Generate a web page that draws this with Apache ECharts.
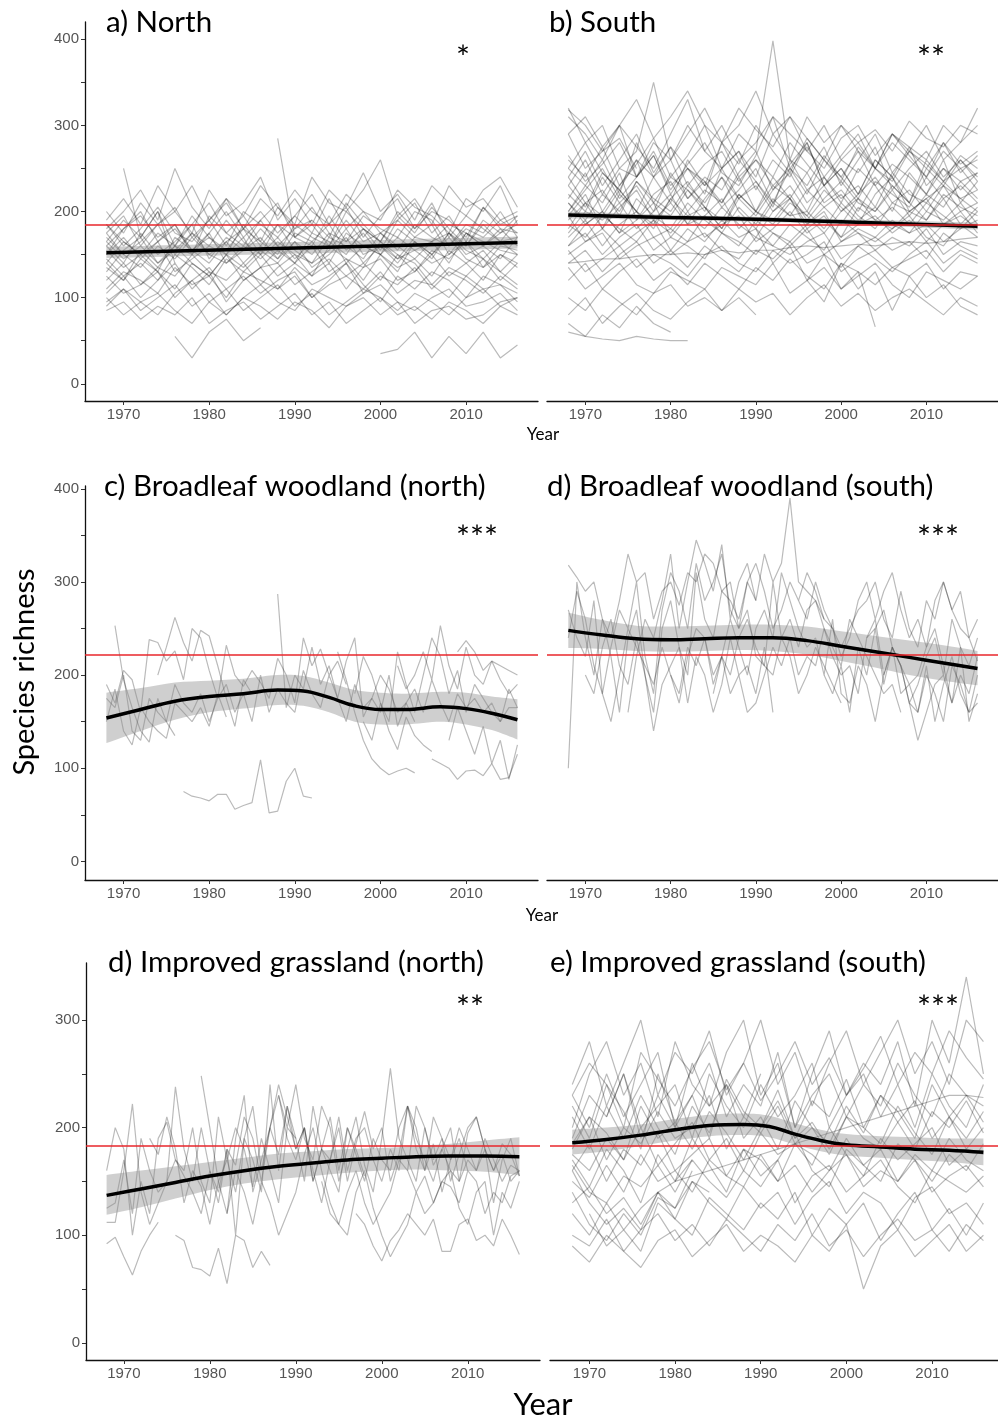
<!DOCTYPE html>
<html>
<head>
<meta charset="utf-8">
<script src="https://cdn.jsdelivr.net/npm/echarts@6/dist/echarts.min.js"></script>
<style>
  html, body { margin: 0; padding: 0; background: #fff; }
  #container { width: 998px; height: 1423px; }
</style>
</head>
<body>
<div id="container"></div>
<script>
// ---- data ----
var yearTicks = [1970, 1980, 1990, 2000, 2010];
var titles = ['a) North', 'b) South', 'c) Broadleaf woodland (north)', 'd) Broadleaf woodland (south)',
    'd) Improved grassland (north)', 'e) Improved grassland (south)'];
var signif = ['*', '**', '***', '***', '**', '***'];
var refLevels = [185, 185, 222, 222, 183, 183];

// site series: [first year, values]; a, b, f every second year, c, d, e every year
var northLines = [
    [1968, [190,215,185,230,200,175,225,195,210,240,190,215,185,225,205,245,200,220,190,230,210,195,225,240,205]],
    [1968, [180,200,225,190,250,205,180,215,195,230,205,185,240,210,200,225,260,195,215,185,230,205,215,190,200]],
    [1968, [200,175,210,185,200,230,190,210,180,215,195,225,200,185,220,200,190,225,205,195,175,215,200,230,185]],
    [1968, [165,190,170,200,160,185,210,175,195,165,205,180,190,170,210,185,165,200,180,210,170,195,180,165,190]],
    [1968, [185,160,180,205,175,165,190,160,200,185,170,195,175,215,180,200,175,190,210,175,195,165,205,180,175]],
    [1968, [150,180,195,170,185,155,175,200,170,190,160,180,205,175,165,195,180,170,200,190,160,185,175,200,170]],
    [1968, [175,150,165,185,150,175,160,190,165,150,185,170,160,195,165,180,155,190,170,165,185,175,160,175,195]],
    [1968, [160,140,175,150,165,185,145,170,155,180,160,140,175,165,150,180,165,145,170,185,150,175,160,145,170]],
    [1968, [140,165,150,130,170,155,140,165,180,150,170,145,165,140,175,160,150,170,155,165,140,175,165,155,150]],
    [1968, [170,150,135,160,145,170,150,165,140,160,185,155,140,170,160,145,175,160,145,165,175,150,160,180,160]],
    [1968, [130,155,170,140,160,150,175,140,155,170,145,165,150,175,140,160,150,130,165,150,170,145,135,160,155]],
    [1968, [155,135,150,165,130,145,160,150,135,155,140,165,135,150,170,140,160,145,155,140,150,165,145,130,150]],
    [1968, [145,125,140,120,150,135,115,145,130,150,125,140,160,130,145,120,150,135,145,125,155,140,120,150,135]],
    [1968, [120,140,115,135,125,150,130,120,140,115,135,150,125,140,110,135,145,120,130,150,125,140,155,130,115]],
    [1968, [135,120,145,130,110,140,125,150,120,135,140,115,130,145,125,140,120,150,140,115,135,125,145,120,140]],
    [1968, [110,130,120,105,135,115,125,100,130,120,110,135,115,125,140,105,125,115,135,110,130,120,105,125,110]],
    [1968, [125,105,115,130,100,120,135,110,125,105,120,130,100,115,125,110,130,105,120,115,100,125,110,115,95]],
    [1968, [95,110,85,100,115,90,105,80,100,115,95,85,110,100,90,105,115,95,85,100,110,90,95,105,85]],
    [1968, [85,95,75,90,80,100,70,85,95,75,90,105,80,95,70,85,100,80,90,75,95,85,70,90,80]],
    [1968, [100,80,95,105,85,70,95,80,100,90,75,95,85,65,90,100,80,95,70,85,90,75,80,95,100]],
    [1968, [175,195,160,185,205,170,190,215,180,200,175,195,220,185,205,170,195,215,180,200,190,170,205,185,195]],
    [1968, [160,180,200,165,185,150,195,175,160,190,210,170,185,160,200,180,165,195,175,205,180,160,190,175,185]],
    [1968, [140,120,155,135,160,140,125,150,170,135,155,140,125,160,145,135,165,150,130,155,145,165,135,150,140]],
    [1968, [105,125,100,120,140,110,130,95,120,135,110,125,100,120,140,115,95,125,110,130,120,100,125,115,105]],
    [1968, [150,170,145,165,180,155,170,150,185,160,145,175,165,185,155,175,150,180,165,145,175,160,185,165,170]],
    [1968, [185,165,150,175,160,195,170,155,180,165,150,185,170,160,190,165,175,155,185,170,160,180,170,190,175]],
    [1968, [165,145,160,140,155,175,150,140,160,145,165,150,140,155,180,150,160,140,165,150,175,155,145,165,150]],
    [1968, [90,110,95,80,105,120,95,110,85,100,115,90,105,80,95,110,100,85,105,95,80,100,110,90,100]],
    [1976, [55,30,60,75,50,65]],
    [2000, [35,40,60,30,55,35,60,30,45]],
    [1988, [285,170,190]],
    [1970, [250,170,200,140]]
];
var southLines = [
    [1968, [310,290,260,300,275,250,290,330,270,300,260,280,310,290,270,250,285,300,265,290,275,260,300,280,320]],
    [1968, [320,280,300,250,270,350,260,290,320,280,300,340,290,310,270,300,260,280,250,290,270,300,260,280,300]],
    [1968, [290,250,270,300,240,280,260,300,270,250,290,270,398,260,310,280,300,270,250,280,260,240,270,250,260]],
    [1968, [250,230,260,220,280,240,210,260,230,250,270,225,260,240,280,230,250,220,260,240,210,250,230,260,240]],
    [1968, [230,260,220,250,240,270,230,250,220,280,240,260,230,250,220,260,240,270,230,255,240,220,250,235,245]],
    [1968, [220,200,240,210,230,200,245,215,235,205,225,250,210,230,200,240,215,230,205,245,220,210,235,215,225]],
    [1968, [200,230,210,245,190,220,235,200,225,210,240,200,230,215,245,210,225,200,235,220,205,240,215,230,210]],
    [1968, [240,210,225,195,235,215,200,230,210,240,215,195,225,245,210,230,200,220,240,210,225,200,230,215,200]],
    [1968, [190,210,180,220,200,185,215,195,205,180,220,200,190,215,185,205,220,195,180,210,200,190,215,185,205]],
    [1968, [210,185,200,175,215,195,180,210,190,175,205,185,215,195,200,180,210,190,205,185,175,200,190,210,185]],
    [1968, [175,200,190,210,180,200,220,185,195,215,180,200,185,210,195,175,200,215,190,205,185,210,195,180,200]],
    [1968, [185,170,195,180,165,190,175,200,170,185,195,165,180,200,175,190,170,185,195,175,190,165,185,200,175]],
    [1968, [170,190,160,185,200,170,180,165,195,175,160,190,175,165,185,200,165,180,170,190,175,185,165,180,190]],
    [1968, [195,165,180,160,175,190,155,180,165,190,170,180,160,185,170,155,190,175,165,180,195,170,160,185,170]],
    [1968, [160,175,150,170,185,155,170,160,145,175,165,150,175,160,180,150,165,175,155,170,160,180,150,165,160]],
    [1968, [150,165,175,145,160,170,150,165,175,155,145,170,160,150,165,175,145,160,170,155,165,145,175,160,150]],
    [1968, [140,155,130,150,165,140,155,135,160,145,130,155,145,165,140,150,135,160,145,130,150,165,140,155,145]],
    [1968, [155,130,145,160,135,150,140,125,150,160,140,130,155,140,150,165,130,145,155,135,145,155,130,150,140]],
    [1968, [120,140,110,130,145,120,135,115,140,125,110,135,120,145,125,110,140,130,115,135,125,140,110,130,125]],
    [1968, [135,110,125,140,115,105,130,120,110,135,125,115,140,105,120,135,110,125,140,115,100,130,120,110,125]],
    [1968, [100,85,110,95,80,105,115,90,100,85,110,95,105,80,100,115,90,105,85,100,110,95,80,100,90]],
    [1968, [80,100,70,90,105,85,75,95,110,85,100,80]],
    [1968, [70,55,80,65,90,70,60]],
    [1968, [60,55,52,50,55,52,50,50]],
    [1968, [318,300,270,285,250]],
    [1990, [180,140,160,120,150,110,130,66]],
    [1996, [120,95,140,110,130,85,125,100,115,90,80]],
    [1968, [140,142,145,145,148,150,150,152,150,155,152,155,155,158,160,158,160,162,160,163,165,163,165,168,170]],
    [1968, [260,240,275,230,255,285,240,265,300,250,270,240,290,260,245,275,230,260,290,245,270,255,235,265,250]],
    [1968, [215,245,200,230,260,210,240,225,200,250,215,235,205,260,225,240,210,250,230,200,245,220,260,210,235]],
    [1968, [240,270,230,260,290,245,275,250,230,280,255,300,270,245,285,260,235,275,250,290,265,240,280,255,270]],
    [1968, [200,225,250,215,240,265,220,250,235,210,245,270,225,255,280,230,250,220,260,240,275,230,250,225,245]],
    [1968, [230,205,245,225,200,240,260,215,240,225,260,235,210,250,230,265,240,215,250,230,210,260,235,250,225]],
    [1968, [180,210,195,225,200,180,215,235,205,190,220,200,240,215,195,225,205,185,220,240,200,215,230,200,210]],
    [1968, [265,235,255,280,240,265,225,255,280,245,230,265,310,250,275,240,265,290,250,235,270,250,280,245,265]],
    [1968, [210,190,220,200,235,210,195,225,205,180,215,230,200,220,190,215,235,210,200,225,195,220,205,235,215]],
    [1968, [250,280,245,225,260,240,275,230,255,270,235,260,240,280,255,230,260,245,275,225,250,270,240,260,235]],
    [1968, [195,220,180,205,225,190,210,185,215,240,200,180,210,195,225,205,185,215,200,230,210,190,220,205,195]],
    [1968, [160,185,200,175,190,210,170,195,180,205,185,170,200,215,180,195,170,205,190,180,200,215,185,195,180]],
    [1968, [290,310,275,300,330,285,310,340,300,280,320,295,275,310,285,260,300,280,295,270,305,285,275,300,290]]
];
var broadNorthLines = [
    [1968, [190,170,205,195,160,238,235,215,226,195,250,240,205,175,232,200,188,205,192,175,218,200,170,240,210,228,200,215,190]],
    [1968, [175,165,200,140,130,175,160,150,190,170,160,180,150,175,190,160,180,150,200,160,185,170,160,205,180,165,200,175,150,190,165,175,160,200,145,170,185,160,195,170,150,180,165,175,160,170,150,165,165]],
    [1969, [253,195,165,140,128,175,150,135]],
    [1974, [200,230,262,235,215,248,242,210,175,145,195,180]],
    [1977, [75,70,68,65,72,72,56,60,63,109,52,54,86,100,70,68]],
    [1988, [287,165,200,185,230,190,210,175,215,240,155,175,200,185,160,170,150]],
    [1995, [225,195,160,130,110,100,93,97,100,95]],
    [1997, [180,220,200,170,150,225,190,160,200,240,220,180,205,160,190,175,160,150,185,165]],
    [1998, [150,130,170,140,120,155,135,125,118]],
    [2006, [110,105,100,88,97,98,92,105,88,90,115]],
    [2008, [130,165,140,115,145,105,130,88,125]],
    [2009, [225,237,225,205,215,210,205,200]],
    [2002, [210,185,200,225,195,253,210,185,230,200,190,215,195,180,190]],
    [1968, [150,185,140,125,165,150,140,132,170,160,150,165,145,180,155]]
];
var broadSouthLines = [
    [1968, [318,305,290,300,260,240,280,330,300,310,260,290,300,275,310,300,330,320,290,280,260,300,320,290,250,270,300,280,310,290,260,250,230,250,270,280,300,260,240,290,250,230,280,260,300,270,290,240,215]],
    [1968, [100,300,240,200,260,220,160,240,270,200,160,250,280,230,200,310,260,240,290,300,250,270,220,210,300,240,260,230,270,280,250,220,200,210,180,240,250,270,230,210,190,200,230,250,210,170,200,180,220]],
    [1968, [270,240,220,280,180,150,200,250,230,210,190,230,200,170,220,250,240,200,220,260,230,200,250,270,240,310,280,250,230,240,200,260,180,170,210,190,150,200,230,180,190,160,210,150,190,220,180,160,200]],
    [1968, [240,290,260,210,180,230,270,250,300,220,180,270,310,290,250,320,280,300,330,270,250,300,280]],
    [1970, [200,180,230,260,210,190,240,200,140,190,210,230,170,220,200,160,190,240,200,210,180,230,160]],
    [1975, [160,220,260,240,280,330,250,300,345,320,290,340,260,300,320,280,330,300,320,390,300,290,280,260]],
    [1980, [200,180,230,210,240,190,220,180,200,160,170,200,230,210,240,200,220,210,250,230,210,260,240,220,200,180,190,160]],
    [1995, [280,260,300,270,250,220,240,280,300,260,290,310,270,240,260,230,280,300,270,250,240,260]],
    [1998, [200,180,210,160,230,200,250,190,230,210,170,160,200,180,150,210,190,160,170]],
    [2008, [170,130,160,190,200,170,230,150,180]],
    [2003, [240,260,200,230,210,170,190,220,240,200,260,230,210,240]],
    [1985, [180,220,200,240,260,230,210,200,240,220,180,200,230,210,190,170]]
];
var grassNorthLines = [
    [1968, [160,200,180,100,150,120,190,205,170,160,200,150,130,210,170,140,190,220,160,200,230,190,170,200,150,180,210,160,200,175,150,190,170,160,200,220,180,160,210,190,170,200,180,160,190,170,150,165,160]],
    [1968, [125,130,170,120,190,160,140,150,238,180,150,200,160,130,180,165,210,190,150,200,175,220,190]],
    [1968, [112,112,160,222,140,110,130,150,170,155,140,120,160,140,180,100,190,170,140,240,160,220,180,200,150,180,170,210,160,190,200,170,150,180,160,220,190,170,150,180,160,150,170,160,180,130,170,190,155]],
    [1968, [92,98,80,63,85,100,112]],
    [1976, [100,95,70,68,62,88,55,100,95,70,85,72]],
    [1979, [248,200,150,120,190,230,140,170,200,240,210,180,200,160,130,170,200,150,185,215,180,200,150,175,220,200,160,185,140,170,190,160]],
    [1982, [120,160,140,110,150,130,100,120,140,175,200,160,130,110,100,140,160,125,100,80,95,110,140,120,130,150,160,125,110,140,150,100,140,125,150]],
    [1988, [230,200,240,190,170,220,200,150,180,210,165,140,190,255,190,170,150,200,165,180,200,150,195,210,180,160,185,175,155]],
    [1997, [120,110,90,76,95,105,120,110,100,115,85,85,110,115,95,100,90,115,100,82]],
    [1993, [150,120,110,140,160,130,110,125,140,170,160,140,155,130,150,145,130,160,150,120,140,130,155,160]],
    [1973, [190,175,210,180,130,160,145,110,150,170,200,180,145,190,160,130,200,190,150,220,180,160,140,200,180,155]],
    [2003, [160,220,200,170,190,150,175,200,210,180,160,175,150,160]]
];
var grassSouthLines = [
    [1968, [240,280,220,260,300,230,270,250,290,230,260,300,240,270,220,260,290,240,270,300,250,280,240,300,280]],
    [1968, [200,250,280,230,260,210,280,240,220,270,300,230,260,200,250,290,230,260,240,280,220,300,260,340,250]],
    [1968, [230,200,250,210,240,270,200,230,260,210,240,220,270,200,230,250,210,240,220,260,230,210,250,230,220]],
    [1968, [190,230,210,250,200,220,240,190,250,220,200,240,210,230,260,200,230,250,210,240,200,250,220,200,240]],
    [1968, [210,180,220,190,230,200,175,220,195,240,190,210,180,225,200,185,220,195,230,205,180,215,200,225,195]],
    [1968, [180,210,170,200,185,215,190,200,230,180,210,195,220,185,200,175,210,190,180,205,225,190,210,180,200]],
    [1968, [175,160,190,170,200,165,185,205,170,190,160,195,175,185,165,200,175,155,190,170,185,200,165,180,175]],
    [1968, [160,185,150,180,165,195,160,175,190,155,180,170,150,185,175,160,190,165,180,150,175,160,190,170,160]],
    [1968, [150,135,165,140,175,150,160,140,170,155,145,175,150,165,140,160,175,145,160,150,170,140,155,165,145]],
    [1968, [165,140,130,155,145,165,140,170,150,135,160,145,170,130,155,165,140,155,170,145,130,160,150,140,155]],
    [1968, [130,145,120,135,110,140,125,150,130,115,145,125,140,110,135,150,120,140,130,105,135,145,120,130,110]],
    [1968, [120,100,130,105,125,140,115,100,135,120,105,130,115,140,100,125,110,130,95,120,140,105,125,100,130]],
    [1968, [100,90,115,85,105,120,95,110,90,115,100,85,110,95,120,90,105,80,100,115,95,105,85,110,95]],
    [1968, [90,75,100,85,70,95,105,80,95,110,85,100,90,75,100,85,110,50,90,105,80,95,110,85,100]],
    [1980, [150,155,160,165,170,175,180,185,190,195,200,205,210,215,220,225,230,230,228]],
    [1968, [160,130,110,125,105,140,150,170]],
    [1970, [120,90,105,85,130,115,150,140]],
    [1968, [140,110,95,120,100,135,125,160]],
    [1972, [210,250,190,230,200,260,220,240,210,250]],
    [1968, [220,190,240,215,180,250,205,230,190,245,215,200,235,190,225,210,245,200,230,215,190,240,210,230,205]],
    [1968, [185,210,195,170,220,190,205,180,215,195,170,200,225,190,205,180,210,200,185,220,195,175,210,190,215]],
    [1968, [230,260,240,200,270,245,220,255,280,235,260,225,250,280,240,265,230,255,285,240,270,250,290,265,245]],
    [1968, [170,145,180,160,130,175,150,190,165,140,180,155,170,195,160,145,180,165,150,185,170,150,175,160,185]]
];

// fitted trends with their confidence bands
var northFitYears = [1968, 2016];
var northFit = [152, 164];
var northLow = [146, 157];
var northHigh = [159, 171];
var southFitYears = [1968, 1980, 1990, 2000, 2016];
var southFit = [196, 193, 191, 188, 183];
var southLow = [192, 190, 188, 185, 179];
var southHigh = [200, 196, 194, 191, 187];
var broadNorthFitYears = [1968, 1972, 1976, 1980, 1984, 1988, 1991, 1994, 1997, 2000, 2003, 2007, 2010, 2013, 2016];
var broadNorthFit = [154, 163, 172, 177, 180, 184, 183, 176, 167, 163, 163, 166, 164, 159, 152];
var broadNorthLow = [127, 140, 152, 160, 164, 168, 167, 160, 150, 147, 147, 150, 147, 141, 131];
var broadNorthHigh = [181, 186, 192, 194, 196, 200, 199, 192, 184, 181, 180, 182, 181, 177, 174];
var broadSouthFitYears = [1968, 1972, 1976, 1980, 1984, 1988, 1992, 1996, 2000, 2004, 2008, 2012, 2016];
var broadSouthFit = [248, 243, 239, 238, 239, 240, 240, 237, 231, 225, 219, 213, 207];
var broadSouthLow = [229, 228, 226, 225, 226, 227, 226, 222, 215, 208, 200, 194, 189];
var broadSouthHigh = [267, 259, 253, 252, 253, 254, 254, 252, 247, 242, 237, 232, 226];
var grassNorthFitYears = [1968, 1972, 1976, 1980, 1984, 1988, 1992, 1996, 2000, 2004, 2008, 2012, 2016];
var grassNorthFit = [137, 143, 149, 155, 160, 164, 167, 170, 171.5, 173, 173.5, 173.5, 173];
var grassNorthLow = [119, 126, 134, 142, 148, 152, 155, 158, 160, 161, 160, 159, 156];
var grassNorthHigh = [156, 160, 164, 168, 172, 176, 178, 180, 181, 183, 185, 188, 191];
var grassSouthFitYears = [1968, 1972, 1976, 1980, 1984, 1988, 1991, 1994, 1997, 2000, 2004, 2008, 2012, 2016];
var grassSouthFit = [186, 189, 193, 198, 202, 203, 201, 194, 188, 184, 182, 180, 179, 177];
var grassSouthLow = [175, 178, 183, 188, 192, 193, 191, 184, 178, 174, 172, 170, 168, 165];
var grassSouthHigh = [198, 200, 203, 208, 212, 213, 211, 204, 198, 194, 192, 191, 190, 190];

// ---- layout ----
var GREY = 'rgba(0,0,0,0.27)';
var BAND = 'rgba(140,140,140,0.42)';
var minorTall = [0, 50, 100, 150, 200, 250, 300, 350, 400];
var majorTall = [0, 100, 200, 300, 400];
var minorShort = [0, 50, 100, 150, 200, 250, 300];
var majorShort = [0, 100, 200, 300];

var panels = [
    {left: 85, top: 22, width: 453, height: 379, xMin: 1965.5, xMax: 2018.4, yMin: -20, yMax: 420, showY: true,
        minor: minorTall, major: majorTall, lines: northLines, step: 2,
        fx: northFitYears, fit: northFit, low: northLow, high: northHigh},
    {left: 547, top: 22, width: 451, height: 379, xMin: 1965.5, xMax: 2018.4, yMin: -20, yMax: 420, showY: false,
        minor: minorTall, major: majorTall, lines: southLines, step: 2,
        fx: southFitYears, fit: southFit, low: southLow, high: southHigh},
    {left: 85, top: 486, width: 453, height: 394, xMin: 1965.5, xMax: 2018.4, yMin: -20, yMax: 403, showY: true,
        minor: minorTall, major: majorTall, lines: broadNorthLines, step: 1,
        fx: broadNorthFitYears, fit: broadNorthFit, low: broadNorthLow, high: broadNorthHigh},
    {left: 547, top: 486, width: 451, height: 394, xMin: 1965.5, xMax: 2018.4, yMin: -20, yMax: 403, showY: false,
        minor: minorTall, major: majorTall, lines: broadSouthLines, step: 1,
        fx: broadSouthFitYears, fit: broadSouthFit, low: broadSouthLow, high: broadSouthHigh},
    {left: 86, top: 963, width: 454, height: 397, xMin: 1965.6, xMax: 2018.4, yMin: -16, yMax: 353, showY: true,
        minor: minorShort, major: majorShort, lines: grassNorthLines, step: 1,
        fx: grassNorthFitYears, fit: grassNorthFit, low: grassNorthLow, high: grassNorthHigh},
    {left: 550, top: 963, width: 448, height: 397, xMin: 1965.4, xMax: 2017.7, yMin: -16, yMax: 353, showY: false,
        minor: minorShort, major: majorShort, lines: grassSouthLines, step: 2,
        fx: grassSouthFitYears, fit: grassSouthFit, low: grassSouthLow, high: grassSouthHigh}
];
var titlePos = [[106, 22], [549, 22], [104, 486], [547, 486], [108, 962], [550, 962]];
var sigPos = [[463, 58], [931, 58], [477, 538], [938, 538], [470, 1008], [938, 1008]];

function toPoints(start, vals, step) {
    return vals.map(function (v, i) { return [start + i * step, v]; });
}
function zip(xs, ys) {
    return xs.map(function (x, i) { return [x, ys[i]]; });
}
// cubic curve through pixel points (Catmull-Rom), as svg path commands
function curve(pts, cmd) {
    var d = cmd + pts[0][0].toFixed(1) + ' ' + pts[0][1].toFixed(1);
    for (var i = 0; i < pts.length - 1; i++) {
        var p0 = pts[i - 1] || pts[i], p1 = pts[i], p2 = pts[i + 1], p3 = pts[i + 2] || p2;
        var c1x = p1[0] + (p2[0] - p0[0]) / 6, c1y = p1[1] + (p2[1] - p0[1]) / 6;
        var c2x = p2[0] - (p3[0] - p1[0]) / 6, c2y = p2[1] - (p3[1] - p1[1]) / 6;
        d += ' C' + c1x.toFixed(1) + ' ' + c1y.toFixed(1) + ' ' + c2x.toFixed(1) + ' ' + c2y.toFixed(1) +
            ' ' + p2[0].toFixed(1) + ' ' + p2[1].toFixed(1);
    }
    return d;
}
function bandRenderer(p) {
    return function (params, api) {
        var up = p.fx.map(function (x, k) { return api.coord([x, p.high[k]]); });
        var lo = p.fx.map(function (x, k) { return api.coord([x, p.low[k]]); }).reverse();
        return {
            type: 'path',
            shape: {pathData: curve(up, 'M') + ' ' + curve(lo, 'L') + ' Z'},
            style: {fill: BAND}
        };
    };
}

var grids = [], xAxes = [], yAxes = [], series = [], graphics = [];

panels.forEach(function (p, i) {
    grids.push({left: p.left, top: p.top, width: p.width, height: p.height, containLabel: false});
    xAxes.push({
        type: 'value', gridIndex: i, min: p.xMin, max: p.xMax,
        axisLine: {show: true, onZero: false, lineStyle: {color: '#111', width: 1.3}},
        axisTick: {show: true, customValues: yearTicks, length: 4, lineStyle: {color: '#333'}},
        axisLabel: {customValues: yearTicks, color: '#555', fontSize: 15, margin: 6, fontFamily: 'Liberation Sans',
            formatter: function (v) { return String(v); }},
        splitLine: {show: false}
    });
    yAxes.push({
        type: 'value', gridIndex: i, min: p.yMin, max: p.yMax, show: p.showY,
        axisLine: {show: true, onZero: false, lineStyle: {color: '#111', width: 1.3}},
        axisTick: {show: true, customValues: p.minor, length: 4, lineStyle: {color: '#333'}},
        axisLabel: {customValues: p.major, color: '#555', fontSize: 15, margin: 6, fontFamily: 'Liberation Sans'},
        splitLine: {show: false}
    });
    p.lines.forEach(function (ln) {
        series.push({
            type: 'line', xAxisIndex: i, yAxisIndex: i, data: toPoints(ln[0], ln[1], p.step),
            symbol: 'none', silent: true, z: 1,
            lineStyle: {color: GREY, width: 1.2}
        });
    });
    series.push({
        type: 'custom', xAxisIndex: i, yAxisIndex: i, z: 2, silent: true,
        data: [[p.fx[0], p.fit[0]]],
        renderItem: bandRenderer(p)
    });
    series.push({
        type: 'line', xAxisIndex: i, yAxisIndex: i, data: [], z: 3, silent: true,
        markLine: {
            silent: true, symbol: ['none', 'none'], label: {show: false},
            lineStyle: {color: '#e8262b', width: 1.6, type: 'solid'},
            data: [{yAxis: refLevels[i]}]
        }
    });
    series.push({
        type: 'line', xAxisIndex: i, yAxisIndex: i, data: zip(p.fx, p.fit),
        symbol: 'none', silent: true, smooth: 0.4, z: 4,
        lineStyle: {color: '#000', width: 3.5}
    });

    graphics.push({
        type: 'text', x: titlePos[i][0], y: titlePos[i][1], z: 10,
        style: {text: titles[i], font: '29.5px Lato', fill: '#000', verticalAlign: 'middle'}
    });
    graphics.push({
        type: 'text', x: sigPos[i][0], y: sigPos[i][1], z: 10,
        style: {text: signif[i], font: '33px Lato', fill: '#000', align: 'center', verticalAlign: 'middle'}
    });
});

graphics.push({type: 'text', x: 543, y: 435, style: {text: 'Year', font: '17px Lato', fill: '#000', align: 'center', verticalAlign: 'middle'}});
graphics.push({type: 'text', x: 542, y: 916, style: {text: 'Year', font: '17px Lato', fill: '#000', align: 'center', verticalAlign: 'middle'}});
graphics.push({type: 'text', x: 543, y: 1405, style: {text: 'Year', font: '31px Lato', fill: '#000', align: 'center', verticalAlign: 'middle'}});
graphics.push({type: 'text', x: 25, y: 672, rotation: Math.PI / 2,
    style: {text: 'Species richness', font: '29px Lato', fill: '#000', align: 'center', verticalAlign: 'middle'}});

var myChart = echarts.init(document.getElementById('container'));
myChart.setOption({
    animation: false,
    backgroundColor: '#fff',
    grid: grids,
    xAxis: xAxes,
    yAxis: yAxes,
    series: series,
    graphic: graphics
});
</script>
</body>
</html>
